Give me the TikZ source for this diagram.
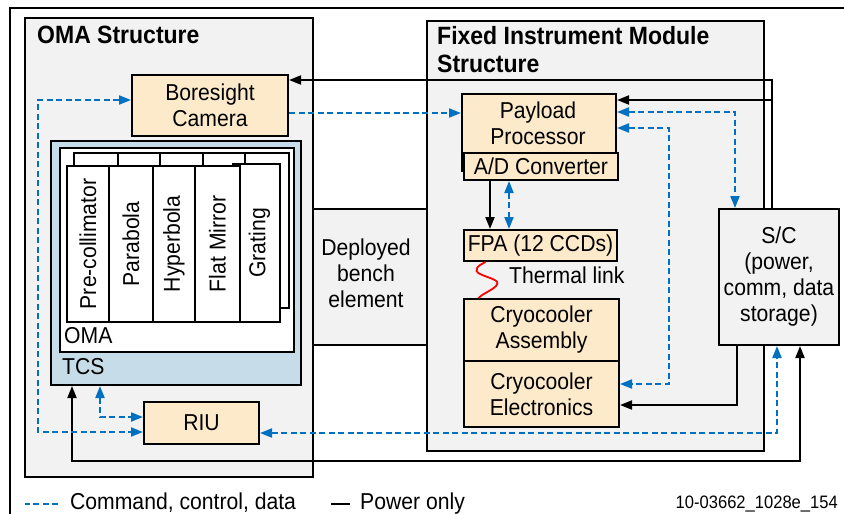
\documentclass[tikz,border=0pt]{standalone}
\usepackage{fontspec}
\setmainfont[FakeStretch=0.92]{Liberation Sans}
\usepackage{tikz}
\usetikzlibrary{arrows.meta}
\definecolor{structfill}{RGB}{242,242,242}
\definecolor{unitfill}{RGB}{253,234,202}
\definecolor{tcsfill}{RGB}{198,220,232}
\definecolor{cmdblue}{RGB}{0,112,192}
\newcommand{\boxfont}{\fontsize{23}{26}\selectfont}
\newcommand{\titlefont}{\fontsize{25}{28}\selectfont\bfseries}
\newcommand{\tagfont}{\fontsize{18}{20}\selectfont}
\tikzset{%
  struct box/.style={
    draw,
    line width=2pt,
    fill=structfill,
    inner sep=0pt,
    anchor=north west
  },
  unit box/.style={
    draw,
    line width=2pt,
    fill=unitfill,
    inner sep=0pt,
    anchor=north west
  },
  optic box/.style={
    draw,
    line width=1.8pt,
    fill=white,
    inner sep=0pt,
    anchor=north west
  },
  label text/.style={
    font=\boxfont,
    align=center,
    inner sep=0pt
  },
  power line/.style={
    line width=1.8pt
  },
  cmd line/.style={
    line width=1.8pt,
    cmdblue,
    dash pattern=on 6pt off 3.5pt
  },
}

\begin{document}
\begin{tikzpicture}[>={Triangle[length=12pt,width=9pt]}, x=1pt, y=-1pt]
\useasboundingbox (0,0) rectangle (844,514);
\draw[line width=2pt] (10,514) -- (10,8) -- (844,8);

% structures
\node[struct box, minimum width=288pt, minimum height=459pt] (omas) at (24,17) {};
\node[struct box, minimum width=337pt, minimum height=430pt] (fims) at (426,20) {};
\node[struct box, minimum width=114pt, minimum height=136pt] (bench) at (312,208) {};
\node[label text] (benchl) at ([xshift=-4pt,yshift=4pt]bench.center) {Deployed\\bench\\element};
\node[font=\titlefont, anchor=base west, inner sep=0pt] (omat) at (37,43) {OMA Structure};
\node[font=\titlefont, anchor=base west, inner sep=0pt] (fimt) at (437,45) {Fixed Instrument Module};
\node[font=\titlefont, anchor=base west, inner sep=0pt] (fimt2) at (437,72) {Structure};

% OMA side
\node[unit box, label text, minimum width=156pt, minimum height=61pt] (bore) at (131,74) {Boresight\\Camera};
\node[draw, line width=2pt, fill=tcsfill, inner sep=0pt, anchor=north west,
      minimum width=250pt, minimum height=244pt] (tcs) at (50,140) {};
\node[optic box, line width=2pt, minimum width=234pt, minimum height=204pt] (oma) at (59,147) {};
\node[label text, anchor=base west] (omal) at (64,343) {OMA};
\node[label text, anchor=base west] (tcsl) at (62,374) {TCS};

\node[optic box, minimum width=44pt, minimum height=155pt] (tab1) at (73,152) {};
\node[optic box, minimum width=42pt, minimum height=155pt] (tab2) at (117,152) {};
\node[optic box, minimum width=43pt, minimum height=155pt] (tab3) at (159,152) {};
\node[optic box, minimum width=42pt, minimum height=155pt] (tab4) at (202,152) {};
\node[optic box, minimum width=44pt, minimum height=155pt] (tab5) at (244,152) {};

\node[optic box, minimum width=47pt, minimum height=158pt] (grating) at (232,163) {};
\node[optic box, minimum width=42pt, minimum height=156pt] (precol) at (66,165) {};
\node[optic box, minimum width=44pt, minimum height=156pt] (parab) at (108,165) {};
\node[optic box, minimum width=42pt, minimum height=156pt] (hyper) at (152,165) {};
\node[optic box, minimum width=45pt, minimum height=156pt] (flat) at (194,165) {};
\node[label text, rotate=90] at (precol) {Pre-collimator};
\node[label text, rotate=90] at (parab) {Parabola};
\node[label text, rotate=90] at (hyper) {Hyperbola};
\node[label text, rotate=90] at (flat) {Flat Mirror};
\node[label text, rotate=90] at ([xshift=3pt]grating.center) {Grating};

\node[unit box, label text, minimum width=115pt, minimum height=42pt] (riu) at (143,401) {RIU};

% fixed instrument side
\node[unit box, minimum width=154pt, minimum height=77pt] (pp) at (461,93) {};
\node[label text] (ppl) at (538,123) {Payload\\Processor};
\node[unit box, label text, minimum width=154pt, minimum height=27pt] (adc) at (463,152) {A/D Converter};
\node[unit box, label text, minimum width=153pt, minimum height=31pt] (fpa) at (463,229) {FPA (12 CCDs)};
\node[unit box, label text, minimum width=155pt, minimum height=62pt] (cryoa) at (463,298) {Cryocooler\\Assembly};
\node[unit box, label text, minimum width=155pt, minimum height=66pt] (cryoe) at (463,360) {Cryocooler\\Electronics};
\node[label text, anchor=west] (thl) at (509,275) {Thermal link};

\node[struct box, minimum width=120pt, minimum height=136pt] (sc) at (718,208) {};
\node[label text] (scl) at (sc) {S/C\\(power,\\comm, data\\storage)};

% power lines
\coordinate (pwtop) at (772,80);
\coordinate (pwpp) at (772,100);
\coordinate (pwcc) at (737,405);
\coordinate (pwtl) at (72,461);
\coordinate (pwtr) at (800,461);
\coordinate (adcl) at ([xshift=-51pt]adc.south);
\draw[power line, ->] (sc.north -| pwtop) -- (pwtop) -- (pwtop -| bore.east);
\draw[power line, ->] (pwpp) -- (pwpp -| pp.east);
\draw[power line, ->] (sc.south -| pwcc) -- (pwcc) -- (pwcc -| cryoe.east);
\draw[power line, <->] (tcs.south -| pwtl) -- (pwtl) -- (pwtr) -- (pwtr |- sc.south);
\draw[power line, ->] (adcl) -- (adcl |- fpa.north);

% command lines
\coordinate (cdsc) at (735,112);
\coordinate (cdcc) at (669,128);
\coordinate (cdcc2) at (669,384);
\coordinate (cdriu) at (777,433);
\coordinate (cdtcs) at (100,417);
\coordinate (cdbl) at (38,100);
\coordinate (cdbr) at (38,432);
\coordinate (bore2) at ([yshift=-7.5pt]bore.east);
\coordinate (adcr) at ([xshift=-32pt]adc.south);
\draw[cmd line, <->] (cdsc -| pp.east) -- (cdsc) -- (cdsc |- sc.north);
\draw[cmd line, <->] (cdcc -| pp.east) -- (cdcc) -- (cdcc2) -- (cdcc2 -| cryoe.east);
\draw[cmd line, <->] (cdriu -| riu.east) -- (cdriu) -- (cdriu |- sc.south);
\draw[cmd line, <->] (tcs.south -| cdtcs) -- (cdtcs) -- (cdtcs -| riu.west);
\draw[cmd line, <->] (cdbl -| bore.west) -- (cdbl) -- (cdbr) -- (cdbr -| riu.west);
\draw[cmd line, ->] (bore2) -- (bore2 -| pp.west);
\draw[cmd line, <->] (adcr) -- (adcr |- fpa.north);

% thermal link
\coordinate (thtop) at ([xshift=-55pt]fpa.south);
\coordinate (thbot) at ([xshift=-63pt]cryoa.north);
\draw[red, line width=1.8pt] (thtop) .. controls (479,265) and (472,270) .. (480,274)
  .. controls (488,278) and (502,280) .. (496,286) .. controls (491,291) and (482,294) .. (thbot);

% legend
\node[label text, anchor=base west] (lgcmd) at (70,509) {Command, control, data};
\node[label text, anchor=base west] (lgpw) at (360,509) {Power only};
\node[font=\tagfont, anchor=base east, inner sep=0pt] (tag) at (838,508) {10-03662\_1028e\_154};
\draw[cmd line] ([xshift=-12pt,yshift=5pt]lgcmd.base west) -- ++(-33,0);
\draw[power line] ([xshift=-10pt,yshift=5pt]lgpw.base west) -- ++(-19,0);
\end{tikzpicture}
\end{document}
